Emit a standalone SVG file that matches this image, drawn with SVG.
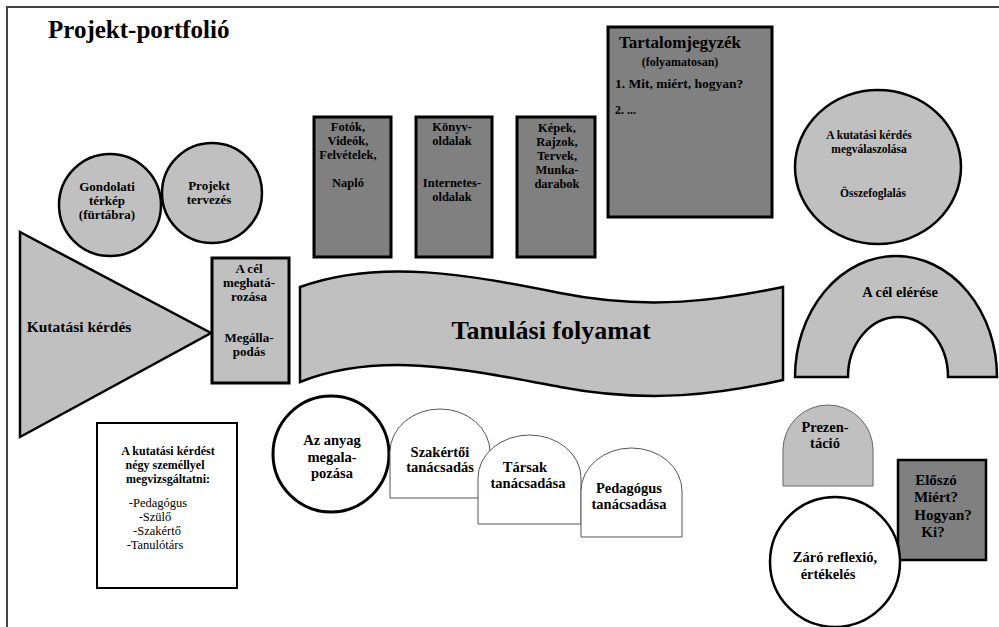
<svg xmlns="http://www.w3.org/2000/svg" width="999" height="627" viewBox="0 0 999 627">
<style>
text{font-family:"Liberation Serif","Times New Roman",serif;font-weight:bold;fill:#000;text-anchor:middle}
.lg{fill:#c0c0c0;stroke:#000;stroke-width:2.5}
.dk{fill:#808080;stroke:#000;stroke-width:3}
.wh{fill:#fff;stroke:#000;stroke-width:2.5}
.tb{fill:#fff;stroke:#555;stroke-width:1}
.s13{font-size:13px}
.s12{font-size:12px}
.s14{font-size:14.5px}
.d{font-size:12.5px}
.n{font-size:12.5px;font-weight:normal}
</style>
<rect width="999" height="627" fill="#fff"/>
<path d="M7,627 L7,7 L999,7" fill="none" stroke="#444" stroke-width="2"/>
<text x="48" y="38" font-size="25" style="text-anchor:start">Projekt-portfolió</text>

<g id="gondolati"><circle cx="110" cy="205" r="51" class="lg"/>
<text class="s13" x="107" y="191">Gondolati</text><text class="s13" x="107" y="205">térkép</text><text class="s13" x="107" y="219">(fürtábra)</text></g>
<g id="projekt"><circle cx="212" cy="193" r="50" class="lg"/>
<text class="s13" x="209" y="190">Projekt</text><text class="s13" x="209" y="204">tervezés</text></g>

<g id="kutatasi"><path d="M20,232 L211,333 L20,437 Z" class="lg"/>
<text x="79" y="332" font-size="15.5">Kutatási kérdés</text></g>

<g id="cel"><rect x="212" y="258" width="77" height="125" class="lg" style="stroke-width:3"/>
<text class="s13" x="249" y="273">A cél</text><text class="s13" x="249" y="287">meghatá-</text><text class="s13" x="249" y="301">rozása</text>
<text class="s13" x="249" y="342">Megálla-</text><text class="s13" x="249" y="356">podás</text></g>

<g id="fotok"><rect x="314" y="117" width="77" height="140" class="dk"/>
<text class="d" x="348" y="131">Fotók,</text><text class="d" x="348" y="145">Videók,</text><text class="d" x="348" y="159">Felvételek,</text><text class="d" x="348" y="187">Napló</text></g>
<g id="konyv"><rect x="416" y="117" width="76" height="140" class="dk"/>
<text class="d" x="452" y="131">Könyv-</text><text class="d" x="452" y="145">oldalak</text><text class="d" x="452" y="187">Internetes-</text><text class="d" x="452" y="201">oldalak</text></g>
<g id="kepek"><rect x="517" y="117" width="78" height="140" class="dk"/>
<text class="d" x="557" y="132">Képek,</text><text class="d" x="557" y="146">Rajzok,</text><text class="d" x="557" y="160">Tervek,</text><text class="d" x="557" y="174">Munka-</text><text class="d" x="557" y="188">darabok</text></g>
<g id="tartalom"><rect x="608" y="27" width="164" height="190" class="dk"/>
<text x="680" y="48" font-size="17">Tartalomjegyzék</text>
<text class="s12" x="680" y="66">(folyamatosan)</text>
<text x="615" y="88" font-size="13.5" style="text-anchor:start">1. Mit, miért, hogyan?</text>
<text class="s12" x="615" y="114" style="text-anchor:start">2. ...</text></g>

<g id="valasz"><ellipse cx="878" cy="167" rx="83" ry="77" class="lg"/>
<text x="869" y="139" font-size="11.5">A kutatási kérdés</text><text x="869" y="153" font-size="11.5">megválaszolása</text><text x="873" y="197" font-size="11.5">Összefoglalás</text></g>

<g id="tanulasi"><path d="M300,287 C380,258 470,275 560,293 C650,311 720,300 783,287 L783,380 C720,394 650,404 560,387 C470,370 380,350 300,382 Z" class="lg"/>
<text x="551" y="339" font-size="26">Tanulási folyamat</text></g>

<g id="eleres"><path d="M795,377 A101,121 0 0 1 997,377 L948,377 A50,60 0 0 0 848,377 Z" class="lg"/>
<text class="s14" x="900" y="297">A cél elérése</text></g>

<g id="vizsgalat"><rect x="97" y="423" width="140" height="165" class="wh" style="stroke-width:2"/>
<text class="s12" x="168" y="455">A kutatási kérdést</text><text class="s12" x="165" y="469">négy személlyel</text><text class="s12" x="168" y="483">megvizsgáltatni:</text>
<text class="n" x="158" y="507">-Pedagógus</text>
<text class="n" x="155" y="521">-Szülő</text>
<text class="n" x="157" y="535">-Szakértő</text>
<text class="n" x="155" y="549">-Tanulótárs</text></g>

<g id="anyag"><circle cx="331" cy="454" r="58" class="wh" style="stroke-width:3"/>
<text class="s14" x="332" y="445">Az anyag</text><text class="s14" x="332" y="462">megala-</text><text class="s14" x="332" y="478">pozása</text></g>

<g id="szakertoi"><path d="M390,498 L390,452 A50,43 0 0 1 490,452 L490,498 Z" class="tb"/>
<text class="s14" x="440" y="457">Szakértői</text><text class="s14" x="440" y="472">tanácsadás</text></g>
<g id="tarsak"><path d="M478,524 L478,478 A51.5,43 0 0 1 581,478 L581,524 Z" class="tb"/>
<text class="s14" x="525" y="472">Társak</text><text class="s14" x="528" y="488">tanácsadása</text></g>
<g id="pedagogus"><path d="M581,537 L581,491 A50.5,43 0 0 1 682,491 L682,537 Z" class="tb"/>
<text class="s14" x="629" y="493">Pedagógus</text><text class="s14" x="629" y="509">tanácsadása</text></g>

<g id="prezentacio"><path d="M783,486 L783,450 A45,45 0 0 1 873,450 L873,486 Z" fill="#c0c0c0" stroke="#666" stroke-width="1"/>
<text class="s14" x="825" y="432">Prezen-</text><text class="s14" x="825" y="448">táció</text></g>

<g id="eloszo"><rect x="898" y="460" width="88" height="100" class="dk" style="stroke-width:2.5"/>
<text x="936" y="485" font-size="15">Előszó</text><text x="936" y="502" font-size="15">Miért?</text><text x="943" y="520" font-size="15">Hogyan?</text><text x="933" y="537" font-size="15">Ki?</text></g>

<g id="zaro"><circle cx="835" cy="562" r="65" class="wh"/>
<text class="s14" x="835" y="562">Záró reflexió,</text><text class="s14" x="828" y="579">értékelés</text></g>
<g id="connectors"/>
</svg>
